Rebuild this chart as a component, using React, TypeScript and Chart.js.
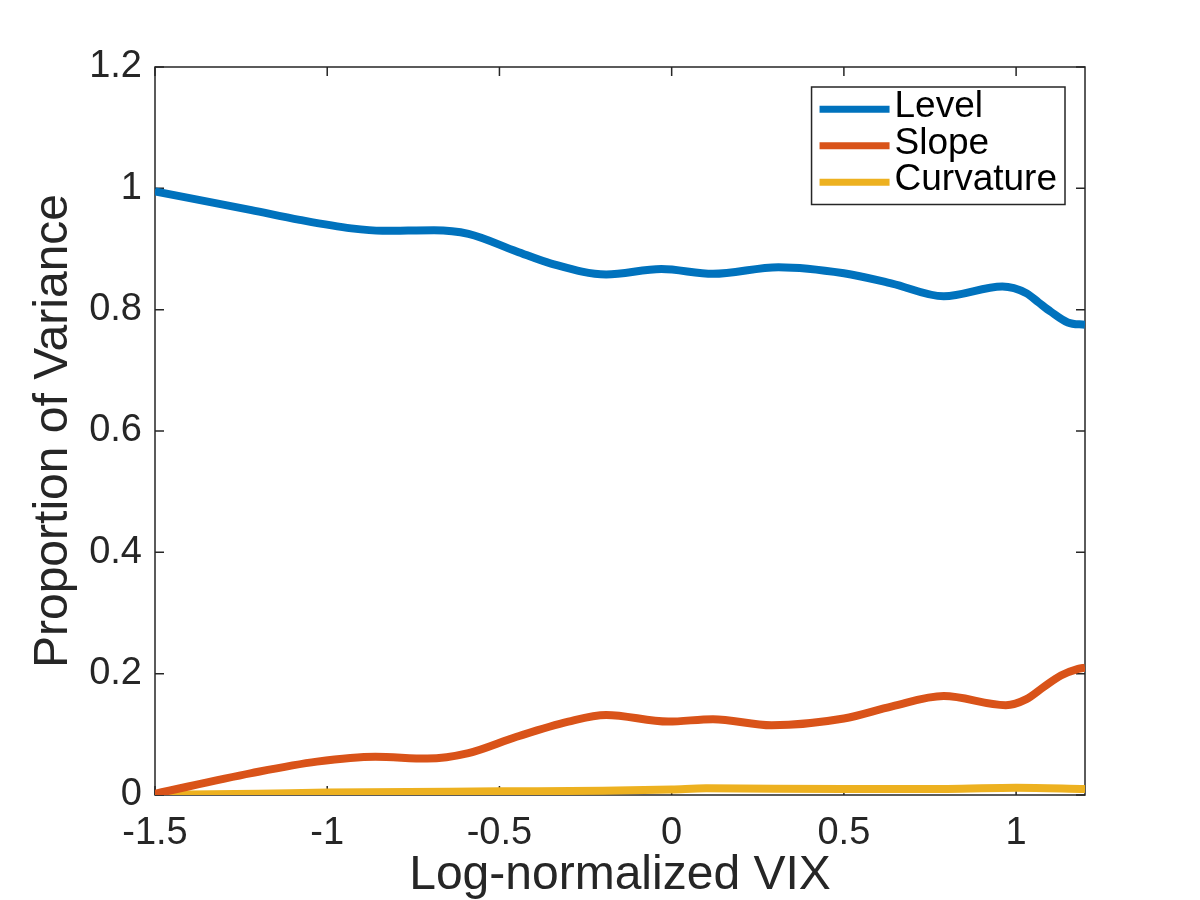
import { useEffect, useRef } from 'react';
import { Chart, registerables } from 'chart.js';

Chart.register(...registerables);

// values
const levelX = [-1.5, -1.22, -1.08, -0.93, -0.84, -0.69, -0.59, -0.45, -0.35, -0.19, -0.03, 0.12, 0.31, 0.5, 0.64, 0.79, 0.96, 1.03, 1.065, 1.1, 1.15, 1.2];
const levelY = [0.995, 0.964, 0.948, 0.934, 0.93, 0.931, 0.925, 0.896, 0.876, 0.858, 0.867, 0.859, 0.87, 0.86, 0.843, 0.822, 0.838, 0.827, 0.812, 0.797, 0.779, 0.775];

const slopeX = [-1.5, -1.22, -1.03, -0.86, -0.71, -0.59, -0.45, -0.3, -0.19, -0.01, 0.12, 0.29, 0.5, 0.64, 0.79, 0.97, 1.03, 1.08, 1.13, 1.18, 1.2];
const slopeY = [0.002, 0.036, 0.055, 0.063, 0.06, 0.069, 0.096, 0.121, 0.132, 0.121, 0.125, 0.115, 0.126, 0.146, 0.163, 0.148, 0.158, 0.178, 0.197, 0.208, 0.21];

const curvX = [-1.5, -1.2, -1.0, -0.5, -0.2, 0, 0.1, 0.5, 0.8, 1.0, 1.2];
const curvY = [0.0, 0.002, 0.004, 0.006, 0.007, 0.009, 0.011, 0.01, 0.01, 0.012, 0.01];

const xTicks = [-1.5, -1, -0.5, 0, 0.5, 1];
const xTickLabels = ['-1.5', '-1', '-0.5', '0', '0.5', '1'];
const yTicks = [0, 0.2, 0.4, 0.6, 0.8, 1, 1.2];
const yTickLabels = ['0', '0.2', '0.4', '0.6', '0.8', '1', '1.2'];

const FONT = '"Liberation Sans", Arial, Helvetica, sans-serif';
const AXIS = '#262626';

const toPoints = (xs: number[], ys: number[]) => xs.map((x, i) => ({ x, y: ys[i] }));

// MATLAB style box with inward ticks on all four sides
const axesBox = {
  id: 'axesBox',
  beforeDatasetsDraw(chart: any) {
    const { ctx, chartArea, scales } = chart;
    const { left, right, top, bottom } = chartArea;
    const len = 9;
    ctx.save();
    ctx.strokeStyle = AXIS;
    ctx.lineWidth = 1.5;
    ctx.strokeRect(left, top, right - left, bottom - top);
    ctx.beginPath();
    yTicks.forEach((v) => {
      const y = scales.y.getPixelForValue(v);
      ctx.moveTo(left, y);
      ctx.lineTo(left + len, y);
      ctx.moveTo(right, y);
      ctx.lineTo(right - len, y);
    });
    xTicks.forEach((v) => {
      const x = scales.x.getPixelForValue(v);
      ctx.moveTo(x, bottom);
      ctx.lineTo(x, bottom - len);
      ctx.moveTo(x, top);
      ctx.lineTo(x, top + len);
    });
    ctx.stroke();
    ctx.restore();
  },
};

const boxLegend = {
  id: 'boxLegend',
  afterDatasetsDraw(chart: any) {
    const { ctx, chartArea } = chart;
    const sets = chart.data.datasets;
    ctx.save();
    ctx.font = `37px ${FONT}`;
    const textW = Math.max(...sets.map((d: any) => ctx.measureText(d.label).width));
    const rowH = 36.5;
    const w = 8 + 70 + 5 + textW + 8;
    const h = rowH * sets.length + 8;
    const right = chartArea.right - 20;
    const top = chartArea.top + 20;
    const left = right - w;
    ctx.fillStyle = '#ffffff';
    ctx.fillRect(left, top, w, h);
    ctx.strokeStyle = AXIS;
    ctx.lineWidth = 1.5;
    ctx.strokeRect(left, top, w, h);
    sets.forEach((d: any, i: number) => {
      const y = top + 4 + rowH * (i + 0.5);
      ctx.beginPath();
      ctx.strokeStyle = d.borderColor;
      ctx.lineWidth = 7;
      ctx.moveTo(left + 8, y);
      ctx.lineTo(left + 78, y);
      ctx.stroke();
      ctx.fillStyle = '#000000';
      ctx.textBaseline = 'middle';
      ctx.textAlign = 'left';
      ctx.fillText(d.label, left + 83, y - 2);
    });
    ctx.restore();
  },
};

export default function App() {
  const canvasRef = useRef<HTMLCanvasElement>(null);

  useEffect(() => {
    document.body.style.margin = '0';
    if (!canvasRef.current) return;

    const line = (label: string, color: string, data: { x: number; y: number }[]) => ({
      label,
      data,
      borderColor: color,
      backgroundColor: color,
      borderWidth: 8,
      pointRadius: 0,
      cubicInterpolationMode: 'monotone' as const,
      fill: false,
    });

    const chart = new Chart(canvasRef.current, {
      type: 'line',
      data: {
        datasets: [
          line('Level', '#0072BD', toPoints(levelX, levelY)),
          line('Slope', '#D95319', toPoints(slopeX, slopeY)),
          line('Curvature', '#EDB120', toPoints(curvX, curvY)),
        ],
      },
      options: {
        animation: false,
        responsive: false,
        maintainAspectRatio: false,
        layout: { padding: { left: 0, right: 115, top: 67, bottom: 0 } },
        plugins: {
          legend: { display: false },
          tooltip: { enabled: false },
        },
        scales: {
          x: {
            type: 'linear',
            min: -1.5,
            max: 1.2,
            grid: { display: false, drawTicks: false },
            border: { display: false },
            afterBuildTicks: (scale: any) => {
              scale.ticks = xTicks.map((value) => ({ value }));
            },
            afterFit: (scale: any) => {
              scale.height = 105;
            },
            ticks: {
              color: AXIS,
              padding: 16,
              maxRotation: 0,
              font: { family: FONT, size: 38 },
              callback: (_v: any, i: number) => xTickLabels[i],
            },
            title: {
              display: true,
              text: 'Log-normalized VIX',
              color: AXIS,
              padding: { top: 0, bottom: 0 },
              font: { family: FONT, size: 48, lineHeight: 1.0 },
            },
          },
          y: {
            type: 'linear',
            min: 0,
            max: 1.2,
            grid: { display: false, drawTicks: false },
            border: { display: false },
            afterBuildTicks: (scale: any) => {
              scale.ticks = yTicks.map((value) => ({ value }));
            },
            afterFit: (scale: any) => {
              scale.width = 155;
            },
            ticks: {
              color: AXIS,
              padding: 13,
              font: { family: FONT, size: 38 },
              callback: (_v: any, i: number) => yTickLabels[i],
            },
            title: {
              display: true,
              text: 'Proportion of Variance',
              color: AXIS,
              padding: { top: 25, bottom: 0 },
              font: { family: FONT, size: 48 },
            },
          },
        },
      },
      plugins: [axesBox, boxLegend],
    });

    return () => chart.destroy();
  }, []);

  return (
    <div style={{ width: 1200, height: 900, background: '#ffffff' }}>
      <canvas ref={canvasRef} width={1200} height={900} />
    </div>
  );
}
